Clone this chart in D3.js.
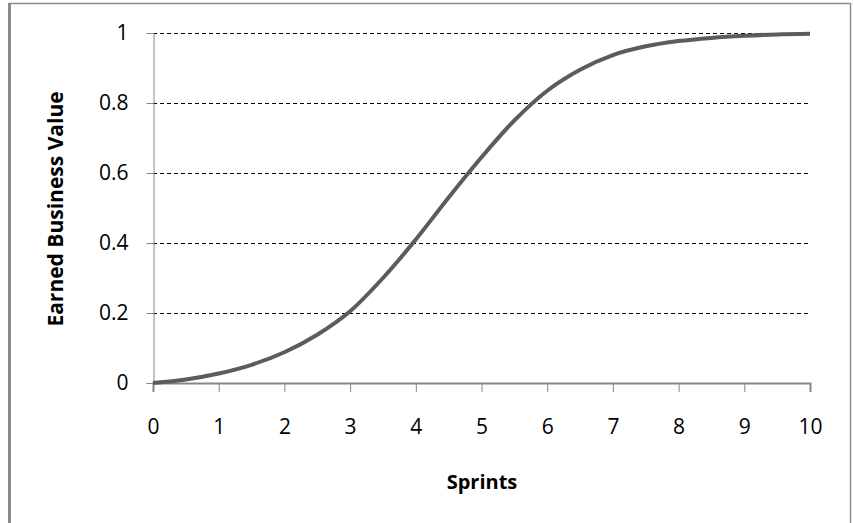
<!DOCTYPE html>
<html>
<head>
<meta charset="utf-8">
<script src="https://cdn.jsdelivr.net/npm/d3@7"></script>
<style>
  body { margin: 0; background: #fff; }
  svg { display: block; font-family: "Open Sans", "Noto Sans", sans-serif; }
</style>
</head>
<body>
<div id="chart"></div>
<script>
let width = 853;
let height = 523;

// values
let sprints = [0, 0.5, 1, 1.5, 2, 2.5, 3, 3.5, 4, 4.5, 5, 5.5, 6, 6.5, 7, 7.5, 8, 8.5, 9, 9.5, 10];
let earnedValue = [0, 0.01, 0.027, 0.052, 0.088, 0.138, 0.205, 0.3, 0.41, 0.53, 0.645, 0.75, 0.835, 0.895, 0.937, 0.962, 0.977, 0.986, 0.992, 0.996, 0.998];
let xTicks = [0, 1, 2, 3, 4, 5, 6, 7, 8, 9, 10];
let yTicks = [0, 0.2, 0.4, 0.6, 0.8, 1];

let svg = d3.select("#chart").append("svg")
  .attr("width", width)
  .attr("height", height);

// outer frame
svg.append("rect")
  .attr("x", 9.5).attr("y", 3.5)
  .attr("width", 841).attr("height", 540)
  .attr("fill", "#fff")
  .attr("stroke", "#8c8c8c")
  .attr("stroke-width", 1.5);
svg.append("line")
  .attr("x1", 9.5).attr("x2", 9.5).attr("y1", 3).attr("y2", height)
  .attr("stroke", "#8c8c8c").attr("stroke-width", 3);

let xScale = d3.scaleLinear().domain([0, 10]).range([153, 810]);
let yScale = d3.scaleLinear().domain([0, 1]).range([383, 33]);

// dashed gridlines
svg.append("g")
  .selectAll("line")
  .data(yTicks.filter(d => d > 0))
  .enter()
  .append("line")
  .attr("x1", xScale(0))
  .attr("x2", xScale(10))
  .attr("y1", d => Math.round(yScale(d)) + 0.5)
  .attr("y2", d => Math.round(yScale(d)) + 0.5)
  .attr("stroke", "#000")
  .attr("stroke-width", 1)
  .attr("stroke-dasharray", "4,3");

// y axis
let yAxis = d3.axisLeft(yScale)
  .tickValues(yTicks)
  .tickSize(7)
  .tickPadding(18)
  .tickFormat(d => d3.format("~g")(d));
let yG = svg.append("g")
  .attr("transform", "translate(" + (xScale(0) + 0.5) + ",0)")
  .call(yAxis);
yG.select(".domain").attr("stroke", "#878787");
yG.selectAll(".tick line").attr("stroke", "#878787");
yG.selectAll(".tick text").attr("font-size", 21).attr("fill", "#000")
  .attr("font-family", "Open Sans, sans-serif");

// x axis
let xAxis = d3.axisBottom(xScale)
  .tickValues(xTicks)
  .tickSize(9)
  .tickPadding(27);
let xG = svg.append("g")
  .attr("transform", "translate(0," + yScale(0) + ")")
  .call(xAxis);
xG.select(".domain").attr("stroke", "#878787").attr("stroke-width", 2);
xG.selectAll(".tick line").attr("stroke", "#878787");
xG.selectAll(".tick text").attr("font-size", 21).attr("fill", "#000")
  .attr("font-family", "Open Sans, sans-serif");

// curve
let line = d3.line()
  .x((d, i) => xScale(d))
  .y((d, i) => yScale(earnedValue[i]))
  .curve(d3.curveCatmullRom.alpha(0.5));

svg.append("path")
  .datum(sprints)
  .attr("d", line)
  .attr("fill", "none")
  .attr("stroke", "#5c5c5c")
  .attr("stroke-width", 4);

// axis titles
svg.append("text")
  .attr("x", 482)
  .attr("y", 489)
  .attr("text-anchor", "middle")
  .attr("font-size", 20)
  .attr("font-weight", "bold")
  .text("Sprints");

svg.append("text")
  .attr("transform", "translate(63,209)rotate(-90)")
  .attr("text-anchor", "middle")
  .attr("font-size", 21)
  .attr("font-weight", "bold")
  .text("Earned Business Value");
</script>
</body>
</html>
